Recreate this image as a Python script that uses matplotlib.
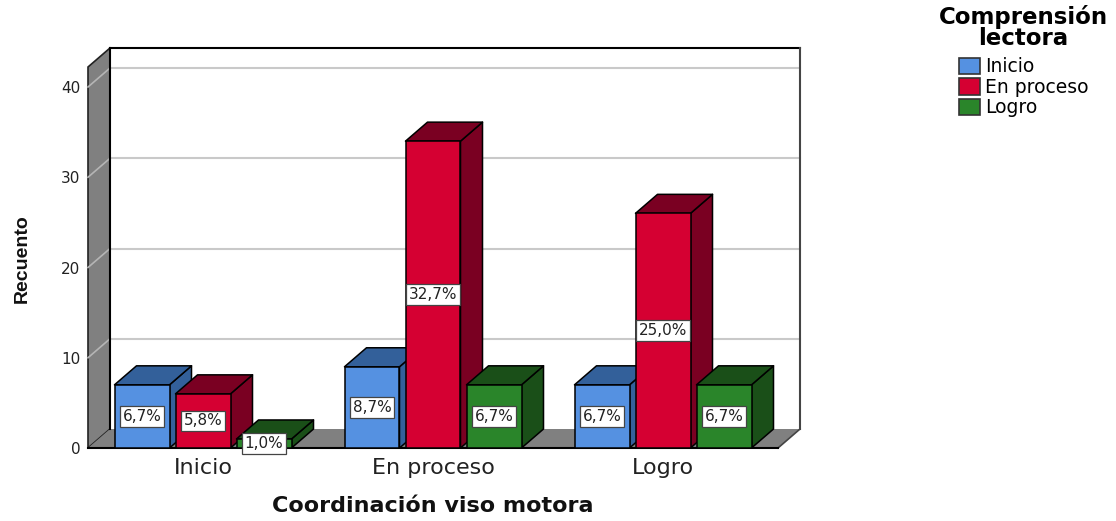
import matplotlib
matplotlib.use('Agg')
import matplotlib.pyplot as plt
from matplotlib.patches import Polygon, Patch

# -- Data ---------------------------------------------------------------------
categories = ['Inicio', 'En proceso', 'Logro']
series_names = ['Inicio', 'En proceso', 'Logro']
inicio = [7, 9, 7]
en_proceso = [6, 34, 26]
logro = [1, 7, 7]
pct_inicio = ['6,7%', '8,7%', '6,7%']
pct_en_proceso = ['5,8%', '32,7%', '25,0%']
pct_logro = ['1,0%', '6,7%', '6,7%']
yticks = [0, 10, 20, 30, 40]

# -- Style --------------------------------------------------------------------
front_colors = ['#5591e1', '#d50032', '#2a852a']
dark_colors = ['#33609a', '#7a0022', '#1a4f18']
wall_gray = '#808080'
grid_gray = '#c9c9c9'
font = 'DejaVu Sans'

W, H = 1116, 521
left, right, bottom, top = 88, 778, 448, 67
ymax = (bottom - top) / 9.025
depth_x = 22 / 230
depth_y = 19 / 9.025
bar_w = 55 / 230
bar_step = 61 / 230


def draw_bar(ax, x, value, fill, dark):
    # side, top and then front, so the front edges stay on top
    side = [(x + bar_w, 0), (x + bar_w + depth_x, depth_y),
            (x + bar_w + depth_x, value + depth_y), (x + bar_w, value)]
    roof = [(x, value), (x + depth_x, value + depth_y),
            (x + bar_w + depth_x, value + depth_y), (x + bar_w, value)]
    front = [(x, 0), (x + bar_w, 0), (x + bar_w, value), (x, value)]
    for pts, color in ((side, dark), (roof, dark), (front, fill)):
        ax.add_patch(Polygon(pts, closed=True, facecolor=color, edgecolor='black',
                             linewidth=1.1, joinstyle='round', clip_on=False, zorder=5))


# -- Figure -------------------------------------------------------------------
fig = plt.figure(figsize=(W / 100, H / 100), dpi=100)
ax = fig.add_axes([left / W, 1 - bottom / H, (right - left) / W, (bottom - top) / H])
ax.set_xlim(0, 3)
ax.set_ylim(0, ymax)
ax.patch.set_visible(False)
for spine in ax.spines.values():
    spine.set_visible(False)

# left wall and floor
ax.add_patch(Polygon([(0, 0), (depth_x, depth_y), (depth_x, ymax + depth_y), (0, ymax)],
                     facecolor=wall_gray, edgecolor='#222222', linewidth=1.2,
                     clip_on=False, zorder=1))
ax.add_patch(Polygon([(0, 0), (depth_x, depth_y), (3 + depth_x, depth_y), (3, 0)],
                     facecolor=wall_gray, edgecolor='none', clip_on=False, zorder=1))

# grid on the back wall and across the left wall
for t in yticks[1:]:
    ax.plot([depth_x, 3 + depth_x], [t + depth_y, t + depth_y], color=grid_gray,
            linewidth=1.5, clip_on=False, zorder=2)
    ax.plot([0, depth_x], [t, t + depth_y], color='#b5b5b5',
            linewidth=1.2, clip_on=False, zorder=2)

# back wall outline
ax.plot([depth_x, depth_x], [depth_y, ymax + depth_y], color='black', linewidth=1.5,
        clip_on=False, zorder=3)
ax.plot([depth_x, 3 + depth_x], [ymax + depth_y, ymax + depth_y], color='black',
        linewidth=1.5, clip_on=False, zorder=3)
ax.plot([3 + depth_x, 3 + depth_x], [depth_y, ymax + depth_y], color='#444444',
        linewidth=1.5, clip_on=False, zorder=3)
ax.plot([3, 3 + depth_x], [0, depth_y], color='#444444', linewidth=1.2,
        clip_on=False, zorder=3)
ax.plot([0, 3], [0, 0], color='black', linewidth=1.5, clip_on=False, zorder=4)

# bars
all_values = [inicio, en_proceso, logro]
all_pcts = [pct_inicio, pct_en_proceso, pct_logro]
for c in range(len(categories)):
    for s in range(len(all_values)):
        x = c + 0.5 + (s - 1) * bar_step - bar_w / 2
        value = all_values[s][c]
        draw_bar(ax, x, value, front_colors[s], dark_colors[s])
        ax.text(x + bar_w / 2, value / 2, all_pcts[s][c], ha='center', va='center',
                fontsize=11, family=font, color='#222222', zorder=7,
                bbox=dict(boxstyle='square,pad=0.18', facecolor='white',
                          edgecolor='#444444', linewidth=0.9))

# axes text
ax.set_xticks([c + 0.5 for c in range(len(categories))], categories)
ax.set_yticks(yticks)
ax.tick_params(axis='x', length=0, pad=7, labelsize=16, labelcolor='#222222')
ax.tick_params(axis='y', length=0, pad=5.5, labelsize=11, labelcolor='#222222')
for label in ax.get_xticklabels() + ax.get_yticklabels():
    label.set_family(font)
ax.set_xlabel('Coordinación viso motora', fontsize=16, fontweight='bold', family=font,
              color='#111111', labelpad=13.5)
fig.text(22 / W, 1 - 259 / H, 'Recuento', rotation=90, ha='center', va='center',
         fontsize=14, fontweight='bold', family='Liberation Sans', color='#111111')

# legend
handles = [Patch(facecolor=c, edgecolor='#333333', linewidth=1.2, label=n)
           for c, n in zip(front_colors, series_names)]
leg = fig.legend(handles=handles, title='Comprensión\nlectora', frameon=False,
                 loc='upper left', bbox_to_anchor=(939 / W, 1 - 5 / H),
                 prop={'family': font, 'size': 13.5}, handlelength=1.12, handleheight=0.96,
                 handletextpad=0.27, labelspacing=0.08, borderpad=0, borderaxespad=0,
                 title_fontproperties={'family': font, 'weight': 'bold', 'size': 16.5})
leg.get_title().set_linespacing(0.88)
leg.get_title().set_multialignment('center')
leg._legend_box.sep = 5.5  # gap between title and entries

fig.savefig('out.png', dpi=100)
